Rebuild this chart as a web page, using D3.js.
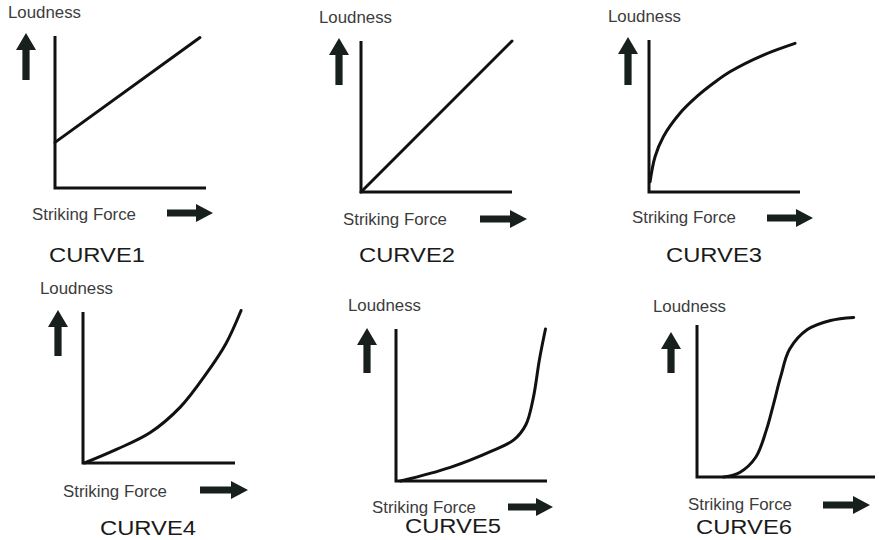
<!DOCTYPE html>
<html>
<head>
<meta charset="utf-8">
<script src="https://cdn.jsdelivr.net/npm/d3@7"></script>
<style>
  html, body { margin: 0; padding: 0; background: #ffffff; }
  svg { display: block; }
</style>
</head>
<body>
<svg id="chart" width="879" height="540"></svg>
<script>
// ---------- data (normalized 0–100 units) ----------
const curveNames = ["CURVE1", "CURVE2", "CURVE3", "CURVE4", "CURVE5", "CURVE6"];
const yAxisLabel = "Loudness";
const xAxisLabel = "Striking Force";

const curve1X = [0, 96];
const curve1Y = [30, 99];

const curve2X = [0, 100];
const curve2Y = [0, 100];

const curve3X = [0.7, 4, 9.5, 20.5, 31.6, 42.6, 53.6, 75.7, 96.7];
const curve3Y = [6.8, 23.2, 36.4, 51.8, 62.7, 71.5, 79.1, 90.1, 97.8];

const curve4X = [1, 22, 44, 64, 81, 94, 104];
const curve4Y = [0, 9, 20, 37, 59, 79, 101];

const curve5X = [3, 36, 64, 78, 86, 91, 95, 99];
const curve5Y = [0, 9, 20, 27, 37, 55, 80, 100];

const curve6X = [15, 24, 33, 39, 43, 47, 52, 62, 75, 88];
const curve6Y = [0, 3, 13, 31, 48, 66, 84, 97, 103, 105];

const seriesX = [curve1X, curve2X, curve3X, curve4X, curve5X, curve6X];
const seriesY = [curve1Y, curve2Y, curve3Y, curve4Y, curve5Y, curve6Y];

// ---------- layout (pixel geometry of each panel) ----------
const panels = [
  { ox: 55,  oy: 188, top: 36,  right: 206, upX: 26,  upTop: 33,  upBot: 80,
    ly: 18,  lx: 8,   sx: 32,  sy: 220, arL: 167, arR: 213, arY: 213, cx: 49,  cy: 262 },
  { ox: 361, oy: 192, top: 41,  right: 512, upX: 339, upTop: 38,  upBot: 85,
    ly: 23,  lx: 319, sx: 343, sy: 225, arL: 480, arR: 527, arY: 219, cx: 359, cy: 262 },
  { ox: 649, oy: 192, top: 40,  right: 800, upX: 628, upTop: 37,  upBot: 85,
    ly: 22,  lx: 608, sx: 632, sy: 223, arL: 767, arR: 813, arY: 218, cx: 666, cy: 262 },
  { ox: 83,  oy: 463, top: 312, right: 235, upX: 58,  upTop: 310, upBot: 356,
    ly: 294, lx: 40,  sx: 63,  sy: 497, arL: 200, arR: 248, arY: 490, cx: 100, cy: 535 },
  { ox: 396, oy: 481, top: 329, right: 547, upX: 367, upTop: 328, upBot: 373,
    ly: 311, lx: 348, sx: 372, sy: 513, arL: 508, arR: 553, arY: 507, cx: 405, cy: 533 },
  { ox: 697, oy: 477, top: 325, right: 875, upX: 671, upTop: 332, upBot: 373,
    ly: 312, lx: 653, sx: 688, sy: 510, arL: 823, arR: 870, arY: 505, cx: 696, cy: 534 }
];

const svg = d3.select("#chart");
const ink = "#111111";
const arrowInk = "#17201c";
const labelInk = "#3c3c3c";
const fontFam = "'Liberation Sans', Arial, Helvetica, sans-serif";

panels.forEach((p, i) => {
  const g = svg.append("g");
  const x = d3.scaleLinear().domain([0, 100]).range([p.ox, p.right]);
  const y = d3.scaleLinear().domain([0, 100]).range([p.oy, p.top]);

  // axes (L shape)
  g.append("path")
    .attr("d", `M${x(0)},${y(100)} L${x(0)},${y(0)} L${x(100)},${y(0)}`)
    .attr("fill", "none")
    .attr("stroke", ink)
    .attr("stroke-width", 3)
    .attr("stroke-linejoin", "miter");

  // curve
  const pts = seriesX[i].map((v, k) => [v, seriesY[i][k]]);
  const line = d3.line()
    .x(d => x(d[0]))
    .y(d => y(d[1]))
    .curve(pts.length > 2 ? d3.curveCatmullRom.alpha(0.5) : d3.curveLinear);
  g.append("path")
    .datum(pts)
    .attr("d", line)
    .attr("fill", "none")
    .attr("stroke", ink)
    .attr("stroke-width", 3)
    .attr("stroke-linecap", "round")
    .attr("stroke-linejoin", "round");

  // up arrow
  const hw = 10, hh = 17, sw = 3.6;
  g.append("path")
    .attr("d", `M${p.upX},${p.upTop} L${p.upX + hw},${p.upTop + hh} L${p.upX + sw},${p.upTop + hh}
                L${p.upX + sw},${p.upBot} L${p.upX - sw},${p.upBot} L${p.upX - sw},${p.upTop + hh}
                L${p.upX - hw},${p.upTop + hh} Z`)
    .attr("fill", arrowInk);

  // right arrow
  const rh = 9, rl = 17, rs = 3.6;
  g.append("path")
    .attr("d", `M${p.arR},${p.arY} L${p.arR - rl},${p.arY - rh} L${p.arR - rl},${p.arY - rs}
                L${p.arL},${p.arY - rs} L${p.arL},${p.arY + rs} L${p.arR - rl},${p.arY + rs}
                L${p.arR - rl},${p.arY + rh} Z`)
    .attr("fill", arrowInk);

  // labels
  g.append("text")
    .attr("x", p.lx).attr("y", p.ly)
    .attr("font-family", fontFam).attr("font-size", 16)
    .attr("fill", labelInk)
    .attr("textLength", 73).attr("lengthAdjust", "spacingAndGlyphs")
    .text(yAxisLabel);

  g.append("text")
    .attr("x", p.sx).attr("y", p.sy)
    .attr("font-family", fontFam).attr("font-size", 16)
    .attr("fill", labelInk)
    .attr("textLength", 104).attr("lengthAdjust", "spacingAndGlyphs")
    .text(xAxisLabel);

  g.append("text")
    .attr("x", p.cx).attr("y", p.cy)
    .attr("font-family", fontFam).attr("font-size", 20.5)
    .attr("fill", "#1a1a1a")
    .attr("textLength", 96).attr("lengthAdjust", "spacingAndGlyphs")
    .text(curveNames[i]);
});
</script>
</body>
</html>
